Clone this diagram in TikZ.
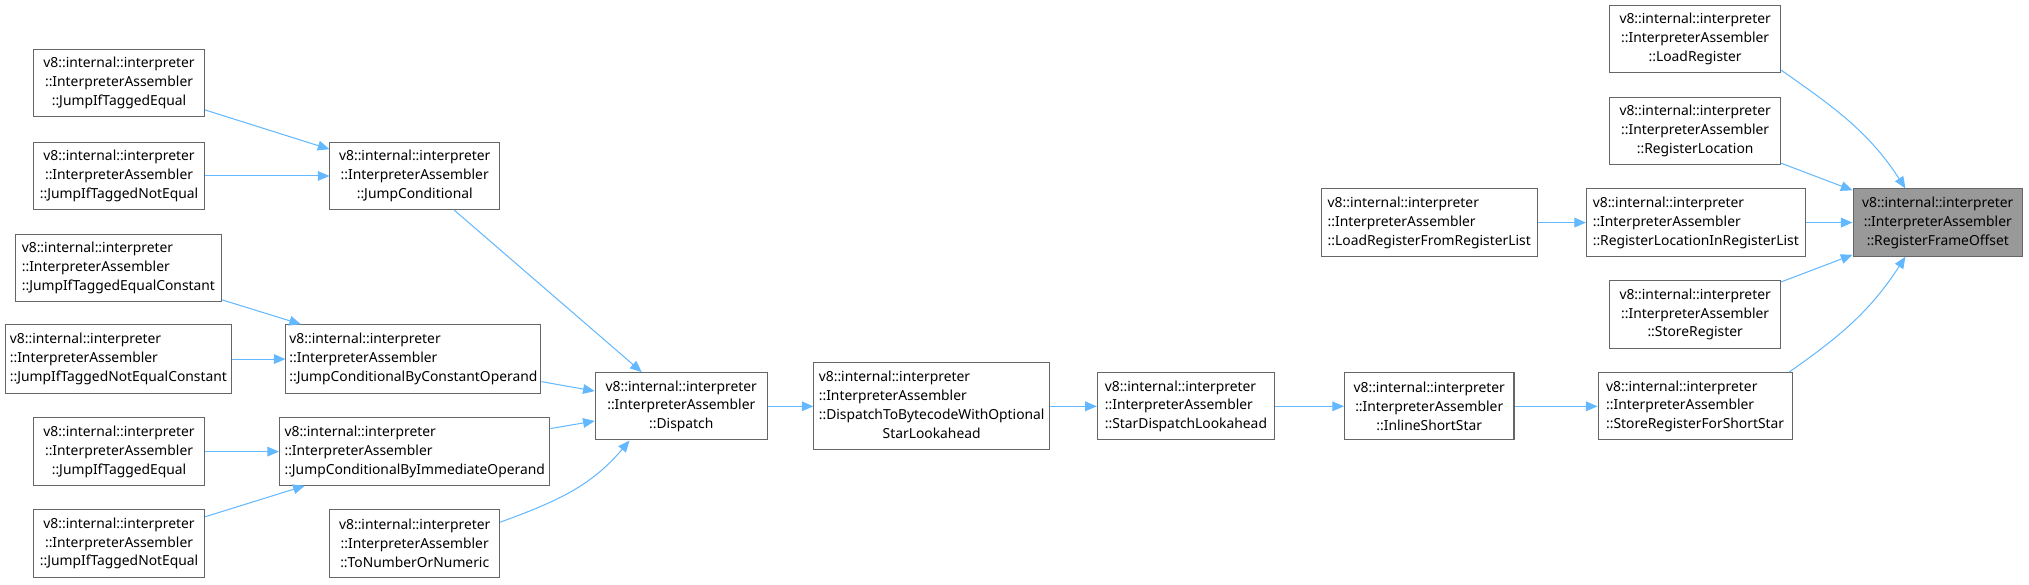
\documentclass[tikz,border=0pt]{standalone}
\usepackage{fontspec}
\setmainfont{Noto Sans}
\usetikzlibrary{arrows.meta}
\definecolor{edgeblue}{HTML}{63B8FF}
\definecolor{boxgray}{HTML}{666666}
\definecolor{rootfill}{HTML}{999999}
\begin{document}
\begin{tikzpicture}[x=1pt,y=1pt,
  fn/.style={draw=boxgray, line width=0.8pt, fill=white, inner sep=0pt, minimum height=52pt,
    font=\fontsize{10.7}{14.6}\selectfont, align=center},
  fnl/.style={fn, align=left},
  rootnode/.style={fn, fill=rootfill},
  edge/.style={draw=edgeblue, line width=0.8pt, -{Triangle[length=9pt,width=7.5pt]}}
]
\useasboundingbox (0,0) rectangle (1568,-451.4);
% column 1
\node[fn, minimum width=132pt] (A1) at (92,-64) {v8::internal::interpreter\\::InterpreterAssembler\\::JumpIfTaggedEqual};
\node[fn, minimum width=132pt] (A2) at (92,-136) {v8::internal::interpreter\\::InterpreterAssembler\\::JumpIfTaggedNotEqual};
\node[fnl, minimum width=159pt] (A3) at (91.5,-207) {v8::internal::interpreter\\::InterpreterAssembler\\::JumpIfTaggedEqualConstant};
\node[fnl, minimum width=175pt, minimum height=53pt] (A4) at (91.5,-277.5) {v8::internal::interpreter\\::InterpreterAssembler\\::JumpIfTaggedNotEqualConstant};
\node[fn, minimum width=132pt] (A5) at (92,-349) {v8::internal::interpreter\\::InterpreterAssembler\\::JumpIfTaggedEqual};
\node[fn, minimum width=132pt] (A6) at (92,-420) {v8::internal::interpreter\\::InterpreterAssembler\\::JumpIfTaggedNotEqual};
% column 2
\node[fn, minimum width=131pt] (B1) at (320.5,-136) {v8::internal::interpreter\\::InterpreterAssembler\\::JumpConditional};
\node[fnl, minimum width=197pt, minimum height=53pt] (B2) at (319.5,-277.5) {v8::internal::interpreter\\::InterpreterAssembler\\::JumpConditionalByConstantOperand};
\node[fnl, minimum width=209pt] (B3) at (320.5,-349) {v8::internal::interpreter\\::InterpreterAssembler\\::JumpConditionalByImmediateOperand};
\node[fn, minimum width=131pt] (B4) at (320.5,-420) {v8::internal::interpreter\\::InterpreterAssembler\\::ToNumberOrNumeric};
% chain
\node[fn, minimum width=133pt] (C) at (526.5,-314) {v8::internal::interpreter\\::InterpreterAssembler\\::Dispatch};
\node[fn, minimum width=182pt, minimum height=67pt] (D) at (720,-314) {\begin{tabular}{@{}l@{}}v8::internal::interpreter\\::InterpreterAssembler\\::DispatchToBytecodeWithOptional\\\multicolumn{1}{@{}c@{}}{StarLookahead}\end{tabular}};
\node[fnl, minimum width=137pt] (E) at (916.5,-314) {v8::internal::interpreter\\::InterpreterAssembler\\::StarDispatchLookahead};
\node[fn, minimum width=131pt] (F) at (1104.5,-314) {v8::internal::interpreter\\::InterpreterAssembler\\::InlineShortStar};
\node[fnl, minimum width=150pt] (G) at (1310,-314) {v8::internal::interpreter\\::InterpreterAssembler\\::StoreRegisterForShortStar};
% right part
\node[fn, minimum width=132pt] (H1) at (1310,-30) {v8::internal::interpreter\\::InterpreterAssembler\\::LoadRegister};
\node[fn, minimum width=132pt] (H2) at (1310,-101) {v8::internal::interpreter\\::InterpreterAssembler\\::RegisterLocation};
\node[fnl, minimum width=169pt] (H3) at (1310.5,-172) {v8::internal::interpreter\\::InterpreterAssembler\\::RegisterLocationInRegisterList};
\node[fn, minimum width=132pt] (H4) at (1310,-243) {v8::internal::interpreter\\::InterpreterAssembler\\::StoreRegister};
\node[fnl, minimum width=167pt] (I) at (1104.5,-172) {v8::internal::interpreter\\::InterpreterAssembler\\::LoadRegisterFromRegisterList};
\node[rootnode, minimum width=131pt] (R) at (1497.5,-172) {v8::internal::interpreter\\::InterpreterAssembler\\::RegisterFrameOffset};
% edges
\draw[edge] (A1) -- (B1);
\draw[edge] (A2) -- (B1);
\draw[edge] (A3) -- (B2);
\draw[edge] (A4) -- (B2);
\draw[edge] (A5) -- (B3);
\draw[edge] (A6) -- (B3);
\draw[edge] (B1) -- (C);
\draw[edge] (B2) -- (C);
\draw[edge] (B3) -- (C);
\draw[edge] (B4.14) to[out=20,in=-130] ([xshift=-40pt]C.south);
\draw[edge] (C) -- (D);
\draw[edge] (D) -- (E);
\draw[edge] (E) -- (F);
\draw[edge] (F) -- (G);
\draw[edge] (I) -- (H3);
\draw[edge] (H3) -- (R);
\draw[edge] (H2) -- (R);
\draw[edge] (H4) -- (R);
\draw[edge] (H1.-20) to[out=-35,in=123] ([xshift=-25pt]R.north);
\draw[edge] (G.20) to[out=35,in=-123] ([xshift=-25pt]R.south);
\end{tikzpicture}
\end{document}
